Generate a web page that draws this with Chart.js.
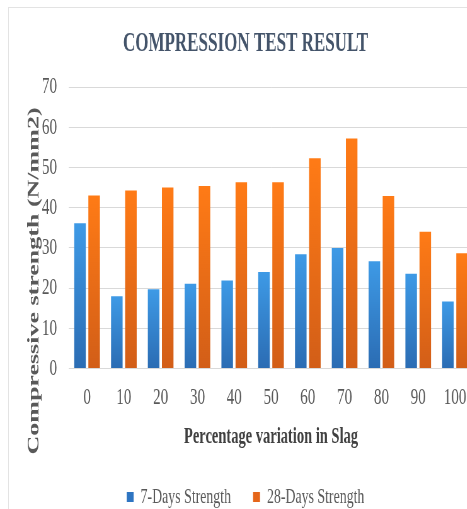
<!DOCTYPE html>
<html>
<head>
<meta charset="utf-8">
<script src="https://cdn.jsdelivr.net/npm/chart.js@4/dist/chart.umd.min.js"></script>
<style>
    html, body { margin: 0; padding: 0; background: #fff; overflow: hidden; }
    body { width: 467px; height: 509px; position: relative; }
    #frame { position: absolute; left: 8px; top: 7px; right: -10px; bottom: -10px; border-left: 1px solid #e3e3e3; border-top: 1px solid #e3e3e3; }
    /* the picture is squeezed sideways, so the chart is drawn wide and scaled down */
    #wrap { position: absolute; left: 0; top: 0; width: 760px; height: 509px; transform: scaleX(0.63); transform-origin: 0 0; }
</style>
</head>
<body>
<div id="frame"></div>
<div id="wrap"><canvas id="chart"></canvas></div>
<script>
    const slagLabels = ["0", "10", "20", "30", "40", "50", "60", "70", "80", "90", "100"];
    const strength7 = [36.1, 18.0, 19.7, 21.1, 21.9, 24.0, 28.4, 30.0, 26.7, 23.6, 16.7];
    const strength28 = [43.0, 44.3, 45.0, 45.4, 46.3, 46.3, 52.3, 57.2, 42.9, 34.0, 28.7];
    const yTicks = [0, 10, 20, 30, 40, 50, 60, 70];

    const chartTitle = "COMPRESSION TEST RESULT";
    const xTitle = "Percentage variation in Slag";
    const yTitle = "Compressive strength (N/mm2)";

    // gradient from top of each bar to its base
    function barGradient(light, dark) {
        return (ctx) => {
            const chart = ctx.chart;
            if (!chart.chartArea || ctx.type !== "data") return dark;
            const y = chart.scales.y;
            const top = y.getPixelForValue(ctx.raw);
            const base = y.getPixelForValue(0);
            const g = chart.ctx.createLinearGradient(0, top, 0, base);
            g.addColorStop(0, light);
            g.addColorStop(1, dark);
            return g;
        };
    }

    const yTitlePlugin = {
        id: "yTitle",
        afterDraw(chart) {
            const c = chart.ctx;
            c.save();
            c.translate(54, 281);
            c.rotate(-Math.PI / 2);
            c.font = 'bold 26px "Liberation Serif"';
            c.fillStyle = "#595959";
            c.textAlign = "center";
            c.textBaseline = "middle";
            c.fillText(yTitle, 0, 0);
            c.restore();
        },
    };

    new Chart(document.getElementById("chart"), {
        type: "bar",
        data: {
            labels: slagLabels,
            datasets: [
                {
                    label: "7-Days Strength",
                    data: strength7,
                    backgroundColor: barGradient("#3e9ae6", "#2b6cb3"),
                    categoryPercentage: 0.766,
                    barPercentage: 0.82,
                },
                {
                    label: "28-Days Strength",
                    data: strength28,
                    backgroundColor: barGradient("#ff7b16", "#d25e18"),
                    categoryPercentage: 0.766,
                    barPercentage: 0.82,
                },
            ],
        },
        options: {
            responsive: true,
            maintainAspectRatio: false,
            animation: false,
            layout: { padding: { left: 28, right: 8.6, top: 0, bottom: -9 } },
            plugins: {
                title: {
                    display: true,
                    text: chartTitle,
                    color: "#44546a",
                    font: { family: "Liberation Serif", size: 27, weight: "bold" },
                    padding: { top: 28, bottom: 26.6 },
                },
                legend: {
                    position: "bottom",
                    labels: {
                        color: "#595959",
                        font: { family: "Liberation Serif", size: 22 },
                        boxWidth: 11,
                        boxHeight: 10,
                        padding: 35,
                        generateLabels(chart) {
                            const cols = ["#2e75c2", "#e5661a"];
                            return chart.data.datasets.map((ds, i) => ({
                                text: ds.label,
                                fillStyle: cols[i],
                                strokeStyle: cols[i],
                                lineWidth: 0,
                                datasetIndex: i,
                                fontColor: "#595959",
                            }));
                        },
                    },
                },
                tooltip: { enabled: false },
            },
            scales: {
                x: {
                    grid: { display: false },
                    border: { display: false },
                    ticks: {
                        color: "#595959",
                        font: { family: "Liberation Serif", size: 24 },
                        padding: 6.6,
                    },
                    title: {
                        display: true,
                        text: xTitle,
                        color: "#404040",
                        font: { family: "Liberation Serif", size: 23, weight: "bold" },
                        padding: { top: 4.8, bottom: 0 },
                    },
                },
                y: {
                    min: yTicks[0],
                    max: yTicks[yTicks.length - 1],
                    afterFit: (axis) => { axis.width = 81; },
                    afterBuildTicks: (axis) => { axis.ticks = yTicks.map((v) => ({ value: v })); },
                    grid: { color: "#d9d9d9", drawTicks: false },
                    border: { display: false },
                    ticks: {
                        color: "#595959",
                        font: { family: "Liberation Serif", size: 24 },
                        padding: 18.4,
                    },
                },
            },
        },
        plugins: [yTitlePlugin],
    });
</script>
</body>
</html>
